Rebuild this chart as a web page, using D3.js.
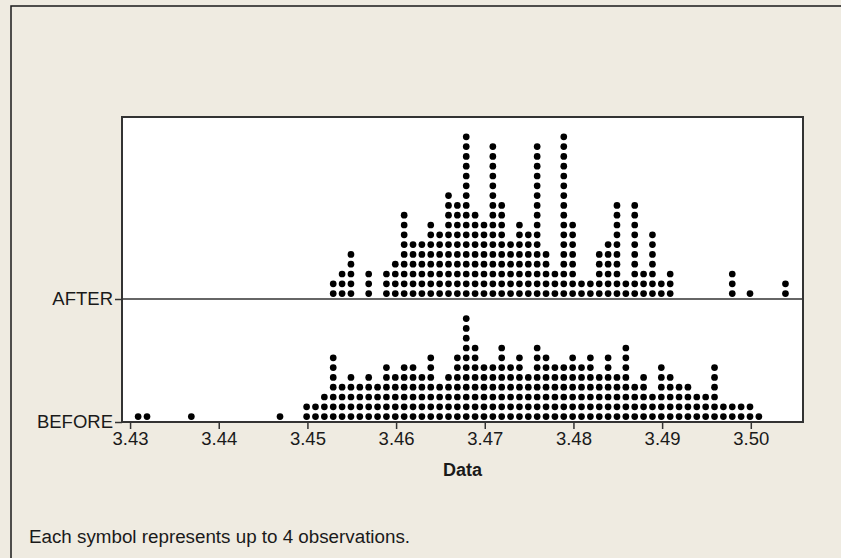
<!DOCTYPE html>
<html>
<head>
<meta charset="utf-8">
<script src="https://cdn.jsdelivr.net/npm/d3@7"></script>
<style>
  html, body { margin: 0; padding: 0; background: #efebe1; }
  svg { display: block; }
  text { font-family: "Liberation Sans", Arial, Helvetica, sans-serif; fill: #1a1a1a; }
</style>
</head>
<body>
<svg id="chart" width="841" height="558"></svg>
<script>
// ---- data (each symbol represents up to 4 observations) ----
const groups = ["AFTER", "BEFORE"];
const tickValues = [3.43, 3.44, 3.45, 3.46, 3.47, 3.48, 3.49, 3.50];

const afterValues = [3.453,3.454,3.455,3.457,3.459,3.460,3.461,3.462,3.463,3.464,3.465,3.466,3.467,3.468,3.469,3.470,3.471,3.472,3.473,3.474,3.475,3.476,3.477,3.478,3.479,3.480,3.481,3.482,3.483,3.484,3.485,3.486,3.487,3.488,3.489,3.490,3.491,3.498,3.500,3.504];
const afterCounts = [2,3,5,3,3,4,9,6,6,8,7,11,10,17,9,8,16,10,6,8,7,16,5,3,17,8,2,2,5,6,10,2,10,3,7,2,3,3,1,2];

const beforeValues = [3.431,3.432,3.437,3.447,3.450,3.451,3.452,3.453,3.454,3.455,3.456,3.457,3.458,3.459,3.460,3.461,3.462,3.463,3.464,3.465,3.466,3.467,3.468,3.469,3.470,3.471,3.472,3.473,3.474,3.475,3.476,3.477,3.478,3.479,3.480,3.481,3.482,3.483,3.484,3.485,3.486,3.487,3.488,3.489,3.490,3.491,3.492,3.493,3.494,3.495,3.496,3.497,3.498,3.499,3.500,3.501];
const beforeCounts = [1,1,1,1,2,2,3,7,4,5,4,5,4,6,5,6,6,5,7,4,5,7,11,8,6,6,8,6,7,5,8,7,6,6,7,6,7,5,7,5,8,4,5,3,6,5,4,4,3,3,6,2,2,2,2,1];

const footnote = "Each symbol represents up to 4 observations.";
const xTitle = "Data";

// ---- layout ----
const plot = { left: 122, right: 803, top: 117, bottom: 422 };
const dotR = 3.35, rowGap = 9.8, rowOffset = 5.4;
const labelFont = 18.5;

const svg = d3.select("#chart");

// outer frame
svg.append("rect").attr("x", 11).attr("y", 6).attr("width", 900).attr("height", 700)
  .attr("fill", "#efebe1").attr("stroke", "#1a1a1a").attr("stroke-width", 1.5);

// plot area
svg.append("rect").attr("x", plot.left).attr("y", plot.top)
  .attr("width", plot.right - plot.left).attr("height", plot.bottom - plot.top)
  .attr("fill", "#ffffff");

const x = d3.scaleLinear().domain([3.429, 3.506]).range([121.2, 804]);
const y = d3.scalePoint().domain(groups).range([299, plot.bottom]);

// separator line at AFTER baseline
svg.append("line").attr("x1", plot.left).attr("x2", plot.right)
  .attr("y1", y("AFTER")).attr("y2", y("AFTER"))
  .attr("stroke", "#333").attr("stroke-width", 1.6);

// dots
function expand(group, values, counts) {
  const out = [];
  values.forEach((v, i) => {
    for (let k = 0; k < counts[i]; k++) out.push({ group, v, k });
  });
  return out;
}
const dots = expand("AFTER", afterValues, afterCounts).concat(expand("BEFORE", beforeValues, beforeCounts));
svg.append("g").selectAll("circle").data(dots).join("circle")
  .attr("cx", d => x(d.v) - 0.8)
  .attr("cy", d => y(d.group) - rowOffset - d.k * rowGap)
  .attr("r", dotR)
  .attr("fill", "#000");

// plot frame
svg.append("rect").attr("x", plot.left).attr("y", plot.top)
  .attr("width", plot.right - plot.left).attr("height", plot.bottom - plot.top)
  .attr("fill", "none").attr("stroke", "#333").attr("stroke-width", 2);

// x axis
const xAxis = svg.append("g").attr("transform", `translate(0,${plot.bottom})`)
  .call(d3.axisBottom(x).tickValues(tickValues).tickFormat(d3.format(".2f")).tickSize(7).tickPadding(3));
xAxis.select(".domain").remove();
xAxis.selectAll(".tick line").attr("stroke", "#333").attr("stroke-width", 1.5);
xAxis.selectAll(".tick text").attr("font-size", labelFont).attr("fill", "#1a1a1a")
  .attr("font-family", "'Liberation Sans', Arial, sans-serif");

// y axis
const yAxis = svg.append("g").attr("transform", `translate(${plot.left},0)`)
  .call(d3.axisLeft(y).tickSize(7).tickPadding(2));
yAxis.select(".domain").remove();
yAxis.selectAll(".tick line").attr("stroke", "#333").attr("stroke-width", 1.5);
yAxis.selectAll(".tick text").attr("font-size", labelFont).attr("fill", "#1a1a1a")
  .attr("font-family", "'Liberation Sans', Arial, sans-serif");

// axis title
svg.append("text").attr("x", (plot.left + plot.right) / 2).attr("y", 476)
  .attr("text-anchor", "middle").attr("font-size", 18).attr("font-weight", "bold")
  .text(xTitle);

// footnote
svg.append("text").attr("x", 29).attr("y", 543).attr("font-size", 18.8).text(footnote);
</script>
</body>
</html>
